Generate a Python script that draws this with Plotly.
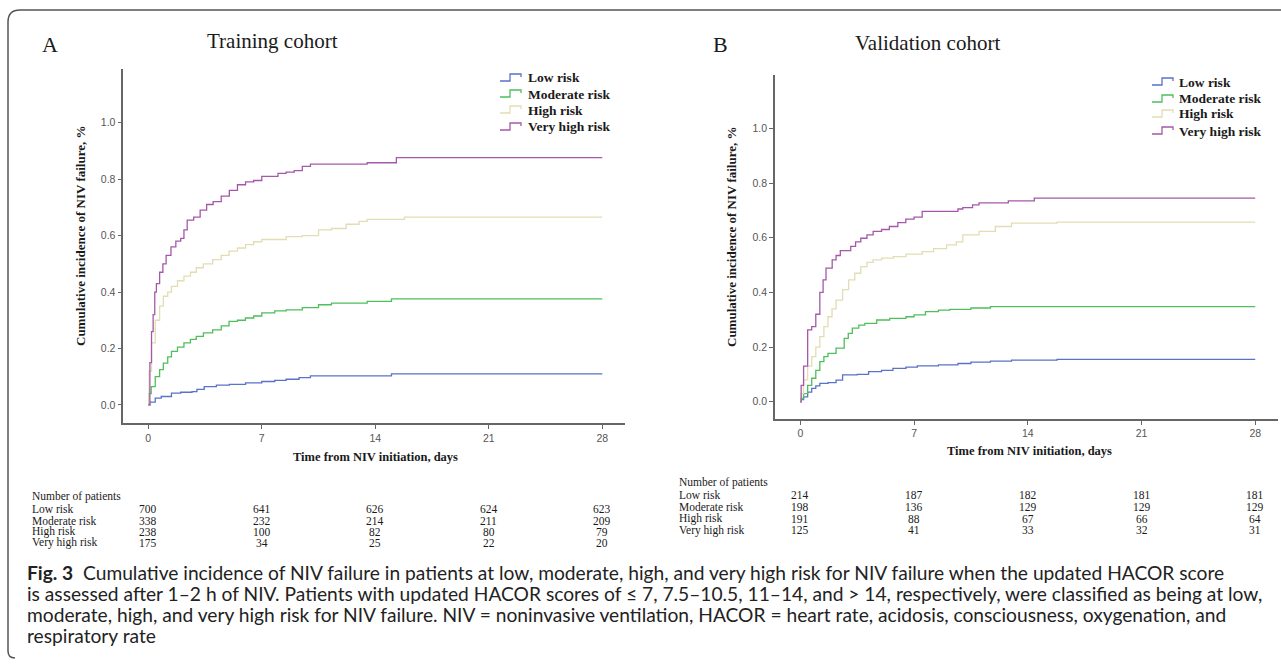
import plotly.graph_objects as go

W, H = 1281, 668

# ---------------- data ----------------
days_ticks = [0, 7, 14, 21, 28]
y_ticks = [0.0, 0.2, 0.4, 0.6, 0.8, 1.0]
groups = ["Low risk", "Moderate risk", "High risk", "Very high risk"]
colors = ["#5a72c8", "#4fbf5c", "#e2ddb2", "#a558aa"]

# Training cohort (panel A)
tA_low = [0, 0.1, 0.43, 0.8, 1.43, 2.0, 2.7, 3.0, 3.45, 4.2, 5.0, 6.0, 7.0, 7.8, 8.5, 9.3, 10.0, 15.0, 28]
vA_low = [0, 0.01, 0.024, 0.03, 0.042, 0.045, 0.047, 0.055, 0.065, 0.07, 0.073, 0.078, 0.083, 0.087, 0.091, 0.097, 0.103, 0.11, 0.11]
tA_mod = [0, 0.05, 0.18, 0.43, 0.7, 0.93, 1.2, 1.43, 1.8, 2.2, 2.6, 2.96, 3.4, 3.97, 4.5, 4.98, 5.5, 5.99, 6.5, 7.0, 7.8, 8.5, 9.5, 10.5, 11.3, 13.5, 15.0, 28]
vA_mod = [0, 0.04, 0.065, 0.10, 0.125, 0.148, 0.17, 0.19, 0.205, 0.22, 0.232, 0.243, 0.255, 0.266, 0.28, 0.296, 0.30, 0.308, 0.315, 0.326, 0.333, 0.337, 0.345, 0.355, 0.361, 0.367, 0.376, 0.376]
tA_high = [0, 0.05, 0.2, 0.43, 0.7, 0.93, 1.2, 1.43, 1.8, 2.2, 2.6, 2.96, 3.4, 3.97, 4.5, 4.98, 5.5, 6.0, 6.5, 7.0, 8.5, 9.5, 10.5, 11.3, 12.2, 13.0, 13.5, 15.8, 28]
vA_high = [0, 0.12, 0.22, 0.30, 0.35, 0.385, 0.40, 0.42, 0.44, 0.456, 0.47, 0.486, 0.50, 0.515, 0.53, 0.545, 0.556, 0.568, 0.578, 0.586, 0.596, 0.60, 0.62, 0.625, 0.64, 0.65, 0.657, 0.665, 0.665]
tA_vh = [0, 0.1, 0.2, 0.3, 0.4, 0.5, 0.7, 0.9, 1.1, 1.4, 1.7, 2.0, 2.2, 2.4, 2.8, 3.2, 3.6, 4.0, 4.5, 5.0, 5.5, 6.0, 6.5, 7.0, 7.5, 8.0, 8.5, 9.0, 9.5, 10.0, 13.5, 15.3, 28]
vA_vh = [0, 0.15, 0.26, 0.32, 0.40, 0.43, 0.47, 0.50, 0.53, 0.56, 0.58, 0.59, 0.62, 0.655, 0.665, 0.69, 0.71, 0.72, 0.74, 0.76, 0.78, 0.79, 0.795, 0.81, 0.81, 0.82, 0.825, 0.83, 0.845, 0.853, 0.858, 0.876, 0.876]

# Validation cohort (panel B)
tB_low = [0, 0.05, 0.2, 0.45, 0.7, 0.95, 1.2, 1.7, 2.2, 2.6, 3.5, 4.2, 5.0, 5.7, 6.5, 7.2, 8.5, 9.7, 10.5, 11.7, 13.0, 15.8, 28]
vB_low = [0, 0.008, 0.018, 0.035, 0.049, 0.058, 0.067, 0.07, 0.079, 0.098, 0.10, 0.11, 0.115, 0.122, 0.127, 0.131, 0.135, 0.14, 0.145, 0.149, 0.152, 0.155, 0.155]
tB_mod = [0, 0.05, 0.2, 0.45, 0.7, 0.95, 1.2, 1.45, 1.7, 2.2, 2.7, 2.95, 3.2, 3.6, 3.97, 4.7, 5.5, 6.5, 7.0, 7.7, 8.5, 9.2, 10.5, 11.7, 28]
vB_mod = [0, 0.012, 0.03, 0.06, 0.086, 0.115, 0.147, 0.165, 0.177, 0.196, 0.232, 0.25, 0.269, 0.28, 0.287, 0.299, 0.305, 0.311, 0.318, 0.33, 0.335, 0.338, 0.343, 0.348, 0.348]
tB_high = [0, 0.05, 0.2, 0.45, 0.7, 0.95, 1.2, 1.45, 1.7, 1.95, 2.2, 2.6, 2.97, 3.35, 3.72, 4.1, 4.48, 5.0, 5.73, 6.5, 7.5, 8.2, 9.0, 9.6, 10.0, 11.0, 12.0, 13.0, 15.8, 28]
vB_high = [0, 0.03, 0.08, 0.13, 0.165, 0.20, 0.238, 0.275, 0.311, 0.34, 0.372, 0.41, 0.446, 0.47, 0.494, 0.51, 0.519, 0.525, 0.531, 0.54, 0.549, 0.56, 0.574, 0.585, 0.61, 0.623, 0.641, 0.653, 0.657, 0.657]
tB_vh = [0, 0.05, 0.2, 0.45, 0.7, 0.95, 1.2, 1.4, 1.58, 1.96, 2.2, 2.46, 3.1, 3.4, 3.72, 4.1, 4.48, 5.0, 5.48, 6.0, 6.49, 7.0, 7.5, 9.7, 10.0, 10.6, 11.0, 12.8, 14.4, 28]
vB_vh = [0, 0.06, 0.13, 0.263, 0.275, 0.32, 0.40, 0.446, 0.489, 0.519, 0.535, 0.553, 0.568, 0.585, 0.598, 0.61, 0.623, 0.63, 0.641, 0.655, 0.668, 0.675, 0.696, 0.705, 0.71, 0.72, 0.727, 0.735, 0.745, 0.745]

# Numbers at risk
riskA_low = [700, 641, 626, 624, 623]
riskA_mod = [338, 232, 214, 211, 209]
riskA_high = [238, 100, 82, 80, 79]
riskA_vh = [175, 34, 25, 22, 20]
riskB_low = [214, 187, 182, 181, 181]
riskB_mod = [198, 136, 129, 129, 129]
riskB_high = [191, 88, 67, 66, 64]
riskB_vh = [125, 41, 33, 32, 31]

caption_lines = [
    "<b>Fig. 3</b>  Cumulative incidence of NIV failure in patients at low, moderate, high, and very high risk for NIV failure when the updated HACOR score",
    "is assessed after 1–2 h of NIV. Patients with updated HACOR scores of \u2264 7, 7.5–10.5, 11–14, and > 14, respectively, were classified as being at low,",
    "moderate, high, and very high risk for NIV failure. NIV = noninvasive ventilation, HACOR = heart rate, acidosis, consciousness, oxygenation, and",
    "respiratory rate",
]

# ---------------- helpers ----------------
def px(x):
    return x / W

def py(y):
    return 1 - y / H

SERIF = "Liberation Serif, Times New Roman, serif"
SANS = "Liberation Sans, Arial, sans-serif"
AXC = "#666666"

fig = go.Figure()

panelA = [(tA_low, vA_low), (tA_mod, vA_mod), (tA_high, vA_high), (tA_vh, vA_vh)]
panelB = [(tB_low, vB_low), (tB_mod, vB_mod), (tB_high, vB_high), (tB_vh, vB_vh)]

for (t, v), c, g in zip(panelA, colors, groups):
    fig.add_trace(go.Scatter(x=t, y=v, mode="lines", line=dict(color=c, width=1.3, shape="hv"),
                             name=g, showlegend=False, xaxis="x", yaxis="y"))
for (t, v), c, g in zip(panelB, colors, groups):
    fig.add_trace(go.Scatter(x=t, y=v, mode="lines", line=dict(color=c, width=1.3, shape="hv"),
                             name=g, showlegend=False, xaxis="x2", yaxis="y2"))

axis_common = dict(showline=True, linecolor=AXC, linewidth=1.5, ticks="outside", ticklen=4,
                   tickcolor=AXC, tickwidth=1.2, showgrid=False, zeroline=False,
                   tickfont=dict(family=SANS, size=10.5, color="#555555"))

fig.update_layout(
    width=W, height=H, margin=dict(l=0, r=0, t=0, b=0),
    paper_bgcolor="white", plot_bgcolor="white", showlegend=False,
    xaxis=dict(domain=[px(123.3), px(624.5)], range=[-1.54, 29.37], tickvals=days_ticks,
               anchor="y", **axis_common),
    yaxis=dict(domain=[py(423.3), py(69)], range=[-0.065, 1.19], tickvals=y_ticks,
               tickformat=".1f", anchor="x", **axis_common),
    xaxis2=dict(domain=[px(775), px(1278)], range=[-1.56, 29.4], tickvals=days_ticks,
                anchor="y2", **axis_common),
    yaxis2=dict(domain=[py(419), py(75)], range=[-0.063, 1.195], tickvals=y_ticks,
                tickformat=".1f", anchor="x2", **axis_common),
)

ann = []

def text(x, y, s, size, family=SERIF, anchor="center", color="#1a1a1a", angle=0, xref="paper"):
    ann.append(dict(x=x, y=y, xref=xref, yref="paper", text=s, showarrow=False,
                    xanchor=anchor, yanchor="middle", textangle=angle,
                    font=dict(family=family, size=size, color=color)))

# Panel labels and titles
text(px(50), py(45), "A", 22)
text(px(272), py(41), "Training cohort", 21)
text(px(720), py(45), "B", 22)
text(px(927), py(43), "Validation cohort", 21)

# Axis titles
text(px(80), py(236), "<b>Cumulative incidence of NIV failure, %</b>", 13, angle=-90)
text(px(731), py(237), "<b>Cumulative incidence of NIV failure, %</b>", 13, angle=-90)
text(px(375.5), py(457), "<b>Time from NIV initiation, days</b>", 12.5)
text(px(1029), py(451), "<b>Time from NIV initiation, days</b>", 12.5)

# Custom legends with step icons
shapes = []

def legend(x_icon, x_text, ys):
    for g, c, y in zip(groups, colors, ys):
        x0, x1, x2 = x_icon, x_icon + 10, x_icon + 21
        path = (f"M {px(x0)},{py(y + 3)} L {px(x1)},{py(y + 3)} L {px(x1)},{py(y - 4)} "
                f"L {px(x2)},{py(y - 4)} L {px(x2)},{py(y - 1)}")
        shapes.append(dict(type="path", xref="paper", yref="paper", path=path,
                           line=dict(color=c, width=1.3)))
        text(px(x_text), py(y), f"<b>{g}</b>", 13.5, anchor="left")

legend(500, 526, [78, 94, 110, 127])
legend(1152, 1177, [82, 99, 114, 131])

# Number-at-risk tables
def table(xref, x_label, y_head, ys, rows):
    text(px(x_label), py(y_head), "Number of patients", 11.5, anchor="left")
    for g, y, vals in zip(groups, ys, rows):
        text(px(x_label), py(y), g, 11.5, anchor="left")
        for d, v in zip(days_ticks, vals):
            ann.append(dict(x=d, y=py(y), xref=xref, yref="paper", text=str(v), showarrow=False,
                            xanchor="center", yanchor="middle",
                            font=dict(family=SERIF, size=11.5, color="#1a1a1a")))

table("x", 30, 496, [509, 520.5, 531.5, 542.5], [riskA_low, riskA_mod, riskA_high, riskA_vh])
table("x2", 677, 483, [495, 507, 518.5, 530], [riskB_low, riskB_mod, riskB_high, riskB_vh])

# Caption
CAP = "Lato, Open Sans, sans-serif"
for i, line in enumerate(caption_lines):
    text(px(25), py(572 + 21 * i), line, 19.2, family=CAP, anchor="left", color="#222222")

# Frame (top + left, rounded corners)
frame = (f"M {px(15)},{py(658)} Q {px(8)},{py(658)} {px(8)},{py(651)} "
         f"L {px(8)},{py(22)} Q {px(8)},{py(10)} {px(20)},{py(10)} L {px(1281)},{py(10)}")
shapes.append(dict(type="path", xref="paper", yref="paper", path=frame,
                   line=dict(color="#555555", width=1.5)))

fig.update_layout(annotations=ann, shapes=shapes)
fig.write_html("out.html")
